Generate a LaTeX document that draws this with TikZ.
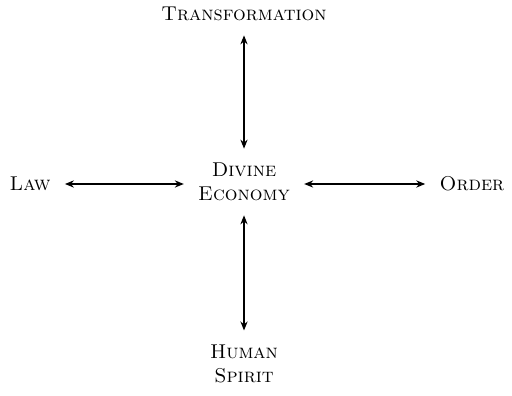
\documentclass[tikz,border=0pt]{standalone}
\usepackage{tikz}
\usetikzlibrary{positioning, arrows.meta}

\begin{document}
\begin{tikzpicture}[node distance=3cm, every node/.style={font=\scshape, align=center, inner sep=7pt}]
    \useasboundingbox (0,0) rectangle (256pt,197.5pt);
    \node (econ) at (122pt,106.5pt) {Divine\\Economy};
    \node[above of=econ, yshift=-1.4pt] (trans) {Transformation};
    \node[below of=econ, yshift=-5.6pt] (spirit) {Human\\Spirit};
    \node[left of=econ, xshift=-21.6pt, yshift=-1pt] (law) {Law};
    \node[right of=econ, xshift=28.6pt, yshift=-1pt] (order) {Order};
    
    \draw[line width=0.6pt, {Stealth[length=4.5pt, width=3.6pt]}-{Stealth[length=4.5pt, width=3.6pt]}] (econ) -- (trans);
    \draw[line width=0.6pt, {Stealth[length=4.5pt, width=3.6pt]}-{Stealth[length=4.5pt, width=3.6pt]}] (econ) -- (spirit);
    \draw[line width=0.6pt, {Stealth[length=4.5pt, width=3.6pt]}-{Stealth[length=4.5pt, width=3.6pt]}] (econ.west|-law) -- (law);
    \draw[line width=0.6pt, {Stealth[length=4.5pt, width=3.6pt]}-{Stealth[length=4.5pt, width=3.6pt]}] (econ.east|-order) -- (order);
\end{tikzpicture}
\end{document}
